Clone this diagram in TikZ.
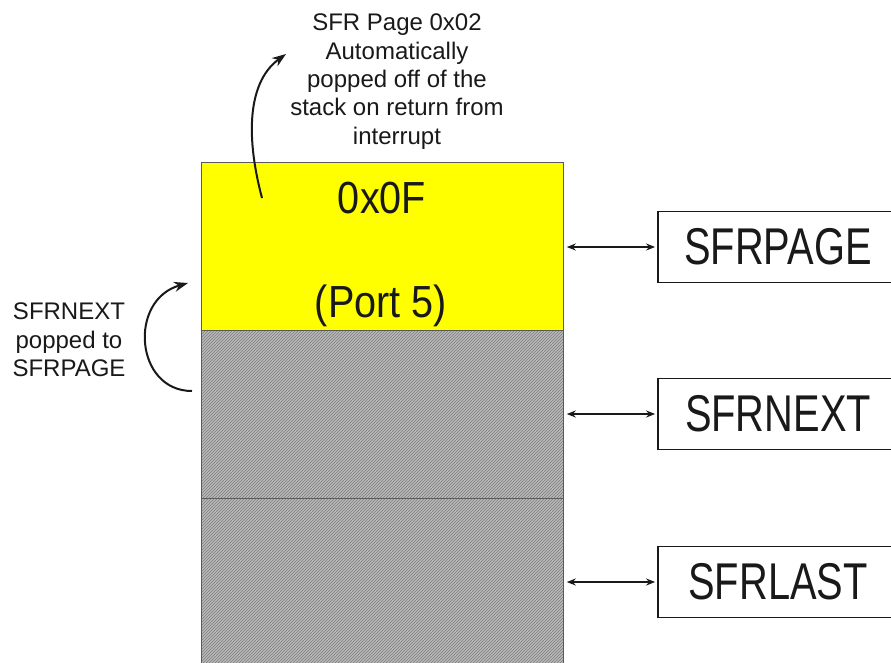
\documentclass[tikz,border=0pt]{standalone}
\usepackage{fontspec}
\setmainfont{Liberation Sans}
\usetikzlibrary{arrows.meta,patterns}
\definecolor{txt}{RGB}{25,25,25}
\definecolor{hatchbg}{RGB}{185,185,185}
\definecolor{hatchfg}{RGB}{125,125,125}
\definecolor{edge}{RGB}{90,90,90}
\definecolor{yel}{RGB}{255,255,0}
\tikzset{
  small/.style={font=\fontsize{24}{28.3}\selectfont, text=txt, align=center, inner sep=0pt},
  bigtxt/.style={font=\fontsize{45}{54}\selectfont, text=txt, inner sep=0pt},
  regbox/.style={draw=txt, line width=1.8pt, fill=white, minimum width=240pt, minimum height=71pt, inner sep=0pt, font=\fontsize{51.7}{60}\selectfont, text=txt},
  cell/.style={draw=edge, line width=0.8pt, inner sep=0pt, minimum width=362pt},
  hatched/.style={cell, pattern=north east lines, pattern color=hatchfg},
  dbl/.style={{Stealth[length=9pt,width=7pt]}-{Stealth[length=9pt,width=7pt]}, line width=1.8pt, draw=txt},
  curv/.style={-{Stealth[length=14pt,width=10pt]}, line width=2pt, draw=txt},
}
\begin{document}
\begin{tikzpicture}[x=1pt,y=-1pt]
\clip (0,0) rectangle (891,662);
\fill[white] (0,0) rectangle (891,662);
% stack cells
\node[cell, fill=yel, minimum height=168pt, anchor=north west] (yelcell) at (201,162) {};
\node[cell, fill=hatchbg, minimum height=168pt, anchor=north west] (g1bg) at (201,330) {};
\node[hatched, minimum height=168pt, anchor=north west] (g1) at (201,330) {};
\node[cell, fill=hatchbg, minimum height=190pt, anchor=north west] (g2bg) at (201,498) {};
\node[hatched, minimum height=190pt, anchor=north west] (g2) at (201,498) {};
% yellow texts
\node[bigtxt, anchor=base] (hex) at (382,213) {\scalebox{0.88}[1]{0x0F}};
\node[bigtxt, anchor=base] (port) at (381,317) {\scalebox{0.88}[1]{(Port 5)}};
% register boxes
\node[regbox] (pagebox) at (778,247) {\scalebox{0.77}[1]{SFRPAGE}};
\node[regbox] (nextbox) at (778,414) {\scalebox{0.77}[1]{SFRNEXT}};
\node[regbox] (lastbox) at (778,582) {\scalebox{0.77}[1]{SFRLAST}};
% double arrows
\draw[dbl, shorten <=3pt, shorten >=2pt] (pagebox.west -| yelcell.east) -- (pagebox.west);
\draw[dbl, shorten <=3pt, shorten >=2pt] (nextbox.west -| g1.east) -- (nextbox.west);
\draw[dbl, shorten <=3pt, shorten >=2pt] (lastbox.west -| g2.east) -- (lastbox.west);
% texts
\node[small, anchor=north] (toptxt) at (397,14) {SFR Page 0x02\\Automatically\\popped off of the\\stack on return from\\interrupt};
\node[small, anchor=north] (lefttxt) at (69,303) {SFRNEXT\\popped to\\SFRPAGE};
% curved arrows
\coordinate (a1s) at (262,198);
\coordinate (a1e) at (286,54);
\draw[curv] (a1s) .. controls (244,130) and (250,80) .. (a1e);
\coordinate (a2s) at (192,391);
\coordinate (a2e) at (188,283);
\draw[curv] (a2s) .. controls (135,391) and (128,300) .. (a2e);
\end{tikzpicture}
\end{document}
